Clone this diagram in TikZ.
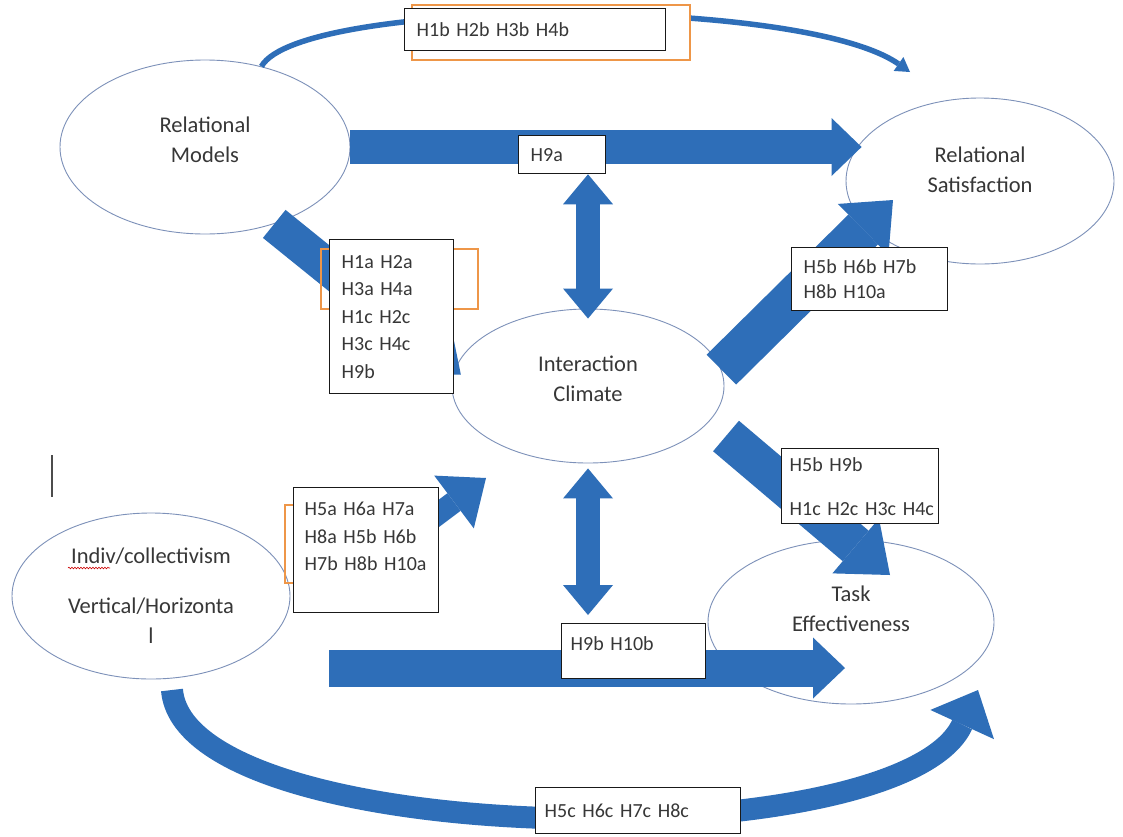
\documentclass[tikz,border=0pt]{standalone}
\usepackage{fontspec}
\setmainfont{Carlito}[WordSpace=0.75]
\usetikzlibrary{arrows.meta,shapes.geometric,decorations.pathmorphing}
\definecolor{flowblue}{RGB}{46,110,184}
\definecolor{ringblue}{RGB}{125,145,185}
\definecolor{tagorange}{RGB}{238,150,72}
\definecolor{inkgray}{RGB}{55,55,55}

\begin{document}
\begin{tikzpicture}[x=1pt,y=-1pt,>=Triangle, every node/.style={text=inkgray}]
    % Styles
    \tikzset{construct/.style={ellipse,draw=ringblue,line width=0.9pt,inner sep=0pt,align=center,font=\fontsize{22.5}{30}\selectfont}}
    \tikzset{hypbox/.style={draw=black!90,line width=1.3pt,fill=white,anchor=north west,align=left,inner xsep=12pt,inner ysep=0pt,font=\fontsize{20}{27.5}\selectfont}}
    \tikzset{shadowbox/.style={draw=tagorange,line width=1.5pt}}
    \tikzset{thinarc/.style={draw=flowblue,line width=5.5pt,arrows={-Triangle[length=14pt,width=17pt,line width=0pt]}}}
    \tikzset{blockarrow/.style n args={3}{draw=flowblue,line width=#1,arrows={-Triangle[length=#2,width=#3,line width=0pt]}}}
    \tikzset{twinarrow/.style n args={3}{draw=flowblue,line width=#1,arrows={Triangle[length=#2,width=#3,line width=0pt]-Triangle[length=#2,width=#3,line width=0pt]}}}

    \path[use as bounding box,fill=white] (0,0) rectangle (1123,836);

    % Constructs
    \node[construct,minimum width=290pt,minimum height=174pt,text depth=14pt] (relmod)  at (205,147) {Relational\\Models};
    \node[construct,minimum width=268pt,minimum height=166pt,text depth=22pt] (relsat)  at (980,181) {Relational\\Satisfaction};
    \node[construct,minimum width=272pt,minimum height=154pt,text depth=14pt] (intclim) at (588,386) {Interaction\\Climate};
    \node[construct,minimum width=278pt,minimum height=166pt] (indiv) at (151,596) {Indiv/collectivism\\[20pt]Vertical/Horizonta\\l};
    \node[construct,minimum width=286pt,minimum height=164pt,text depth=26pt] (tasket)  at (851,622) {Task\\Effectiveness};
    \draw[red!80!black,line width=0.6pt,decorate,decoration={snake,amplitude=0.8pt,segment length=3pt}] (68,568) -- (110,568);

    % Free arrow ends
    \coordinate (arcend)    at (910,72);
    \coordinate (sattip)    at (893,200);
    \coordinate (taskstart) at (726,436);
    \coordinate (tasktip)   at (890,575);
    \coordinate (indstart)  at (358,574);
    \coordinate (indtip)    at (486,478);
    \coordinate (lowstart)  at (329,668);
    \coordinate (lowtip)    at (845,668);
    \coordinate (bowstart)  at (172,690);
    \coordinate (bowtip)    at (978,690);

    % Arrows
    \draw[thinarc] (relmod.55) .. controls (300,-2) and (800,-5) .. (arcend);
    \draw[blockarrow={34pt}{30pt}{58pt},shorten >=-16pt] (relmod.east) -- (relmod.east -| relsat.west);
    \draw[blockarrow={36pt}{40pt}{66pt},shorten >=-8pt] (relmod.-48) -- (intclim.173);
    \draw[blockarrow={42pt}{42pt}{72pt}] (intclim.7) -- (sattip);
    \draw[blockarrow={40pt}{45pt}{72pt}] (taskstart) -- (tasktip);
    \draw[blockarrow={22pt}{40pt}{66pt}] (indstart) -- (indtip);
    \draw[blockarrow={37pt}{32pt}{61pt}] (lowstart) -- (lowtip);
    \draw[blockarrow={22pt}{38pt}{70pt}] (bowstart) .. controls (185,850) and (900,860) .. (bowtip);

    % Hypothesis labels
    \draw[shadowbox,fill=white] (412,5) rectangle (690,60);
    \draw[shadowbox] (321,249) rectangle (478,309);
    \draw[shadowbox] (285,505) rectangle (330,583);
    \node[hypbox,text width=237pt,minimum height=42pt] (h1b) at (404,8) {H1b H2b H3b H4b};
    \node[hypbox,text width=63pt,minimum height=38pt] (h9a) at (518,135) {H9a};
    \node[hypbox,text width=100pt,minimum height=154pt] (h1a) at (329,239) {H1a H2a\\H3a H4a\\H1c H2c\\H3c H4c\\H9b};
    \node[hypbox,text width=132pt,minimum height=63pt] (h5bsat) at (791,247) {H5b H6b H7b\\[-2.5pt]H8b H10a};
    \node[hypbox,inner xsep=8pt,text width=141pt,minimum height=75pt] (h5btask) at (781,448) {H5b H9b\\[16.5pt]H1c~H2c~H3c~H4c};
    \node[hypbox,inner xsep=11pt,text width=123pt,minimum height=125pt] (h5a) at (293,487) {H5a H6a H7a\\H8a H5b H6b\\H7b~H8b~H10a\\\mbox{}};
    \node[hypbox,inner xsep=9pt,text width=126pt,minimum height=55pt,text depth=15pt] (h9b) at (561,623) {H9b H10b};
    \node[hypbox,inner xsep=9pt,text width=187pt,minimum height=46pt] (h5c) at (535,787) {H5c H6c H7c H8c};

    % Twin arrows
    \draw[twinarrow={24pt}{30pt}{50pt},shorten >=-10pt] (intclim.north |- h9a.south) -- (intclim.north);
    \draw[twinarrow={24pt}{30pt}{50pt},shorten <=5pt,shorten >=8pt] (intclim.south) -- (intclim.south |- h9b.north);

    % Cursor mark
    \draw[black!70,line width=1.6pt] (52,455) -- (52,497);
  \end{tikzpicture}
\end{document}
